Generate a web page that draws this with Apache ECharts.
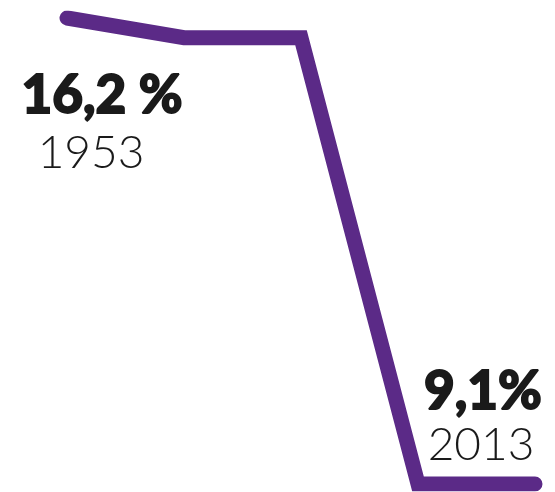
<!DOCTYPE html>
<html>
<head>
<meta charset="utf-8">
<script src="https://cdn.jsdelivr.net/npm/echarts@6/dist/echarts.min.js"></script>
<style>
html,body{margin:0;padding:0;background:#fff;}
#c{width:555px;height:492px;}
</style>
</head>
<body>
<div id="c"></div>
<script>
var categories = ['1953', '1968', '1983', '1998', '2013'];
var values = [16.2, 15.9, 15.9, 9.1, 9.1];
var valueLabels = ['16,2 %', '9,1%'];
var yearLabels = ['1953', '2013'];

var chart = echarts.init(document.getElementById('c'));
var bigFont = { fontFamily: 'Lato', fontWeight: 900, fontSize: 53, fill: '#1a1a1a', stroke: '#1a1a1a', lineWidth: 1.8 };
var smallFont = { fontFamily: 'Lato', fontWeight: 300, fontSize: 46, fill: '#1a1a1a' };
chart.setOption({
  animation: false,
  grid: { left: 67, right: 20, top: 18, bottom: 8 },
  xAxis: { type: 'category', data: categories, boundaryGap: false, show: false },
  yAxis: { type: 'value', min: 9.1, max: 16.2, show: false },
  series: [{
    type: 'line',
    data: values,
    symbol: 'none',
    lineStyle: { color: '#5b2a87', width: 15, cap: 'round', join: 'miter' }
  }],
  graphic: [
    { type: 'text', x: 102, y: 96, style: Object.assign({ text: valueLabels[0], align: 'center', verticalAlign: 'middle' }, bigFont) },
    { type: 'text', x: 91, y: 153, style: Object.assign({ text: yearLabels[0], align: 'center', verticalAlign: 'middle' }, smallFont) },
    { type: 'text', x: 483, y: 392, style: Object.assign({ text: valueLabels[1], align: 'center', verticalAlign: 'middle' }, bigFont) },
    { type: 'text', x: 481, y: 445, style: Object.assign({ text: yearLabels[1], align: 'center', verticalAlign: 'middle' }, smallFont) }
  ]
});
</script>
</body>
</html>
